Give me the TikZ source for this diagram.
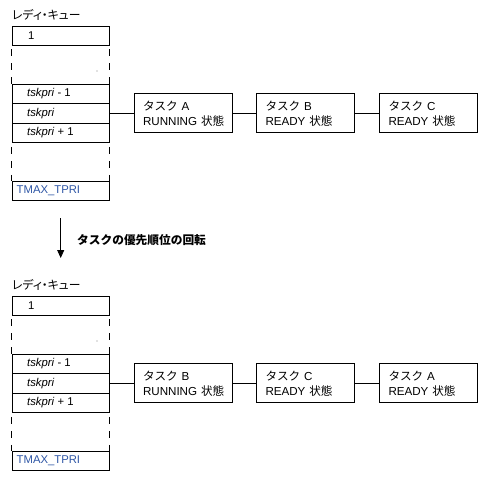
\documentclass[tikz,border=0pt]{standalone}
\usepackage{fontspec}
\setmainfont{Liberation Sans}
\newfontfamily\jp{Noto Sans CJK JP}
\newfontfamily\jpt{Noto Sans CJK JP}[RawFeature=+palt]
\usetikzlibrary{arrows.meta}
\definecolor{tblue}{RGB}{45,85,165}
\tikzset{
  qbox/.style={draw, line width=0.8pt, minimum width=97pt, minimum height=19.4pt, inner sep=0pt},
  qtext/.style={anchor=west, inner sep=0pt, font=\fontsize{11.3}{13}\selectfont},
  taskbox/.style={draw, line width=0.8pt, text width=80pt, inner xsep=9pt, inner ysep=0pt, minimum height=39pt, align=left, font=\fontsize{11.6}{15}\selectfont},
  conn/.style={line width=0.8pt},
  qdash/.style={line width=0.8pt, dash pattern=on 7pt off 7pt},
  qtitle/.style={anchor=west, inner sep=0pt, font=\fontsize{11.8}{13}\selectfont\jpt},
}
\newcommand\drawreadyqueue[5]{%
  \begin{scope}[shift={(0,#2)}]
    \node[qtitle] (#1title) at (12,14.5) {レディ・キュー};
    \node[qbox, minimum height=18.3pt] (#1r1) at (60.5,35.85) {};
    \node[qbox] (#1r2) at (60.5,93.75) {};
    \node[qbox] (#1r3) at (60.5,113.25) {};
    \node[qbox] (#1r4) at (60.5,132.75) {};
    \node[qbox, minimum height=19pt] (#1r5) at (60.5,190.5) {};
    \node[qtext] (#1t1) at (28,35.85) {1};
    \node[qtext] (#1t2) at (27,93.75) {\textit{tskpri} - 1};
    \node[qtext] (#1t3) at (27,113.25) {\textit{tskpri}};
    \node[qtext] (#1t4) at (27,132.75) {\textit{tskpri} + 1};
    \node[qtext, text=tblue] (#1t5) at (16.5,190.5) {TMAX\_TPRI};
    \draw[qdash] (#1r1.south west) ++(0,4) -- (#1r2.north west);
    \draw[qdash] (#1r1.south east) ++(0,4) -- (#1r2.north east);
    \draw[qdash] (#1r4.south west) ++(0,4) -- (#1r5.north west);
    \draw[qdash] (#1r4.south east) ++(0,4) -- (#1r5.north east);
    \fill[gray] (97,71) circle (0.6pt);
    \node[taskbox] (#1ba) at (183,113.25) {\mbox{{\jp タスク} #3}\\\mbox{RUNNING {\jp 状態}}};
    \node[taskbox] (#1bb) at (305.5,113.25) {\mbox{{\jp タスク} #4}\\\mbox{READY {\jp 状態}}};
    \node[taskbox] (#1bc) at (428.5,113.25) {\mbox{{\jp タスク} #5}\\\mbox{READY {\jp 状態}}};
    \draw[conn] (#1r3.east) -- (#1ba.west);
    \draw[conn] (#1ba.east) -- (#1bb.west);
    \draw[conn] (#1bb.east) -- (#1bc.west);
  \end{scope}%
}
\begin{document}
\begin{tikzpicture}[x=1pt,y=-1pt]
\useasboundingbox (0,0) rectangle (500,479);
\drawreadyqueue{u}{0}{A}{B}{C}
\drawreadyqueue{d}{270}{B}{C}{A}
\coordinate (arrS) at (60.7,218);
\coordinate (arrE) at (60.7,258);
\draw[line width=0.8pt, -{Triangle[length=8pt,width=7pt]}] (arrS) -- (arrE);
\node[anchor=west, inner sep=0pt, font=\fontsize{11.7}{13}\selectfont\jp\bfseries] (rot) at (77,240) {タスクの優先順位の回転};
\end{tikzpicture}
\end{document}
